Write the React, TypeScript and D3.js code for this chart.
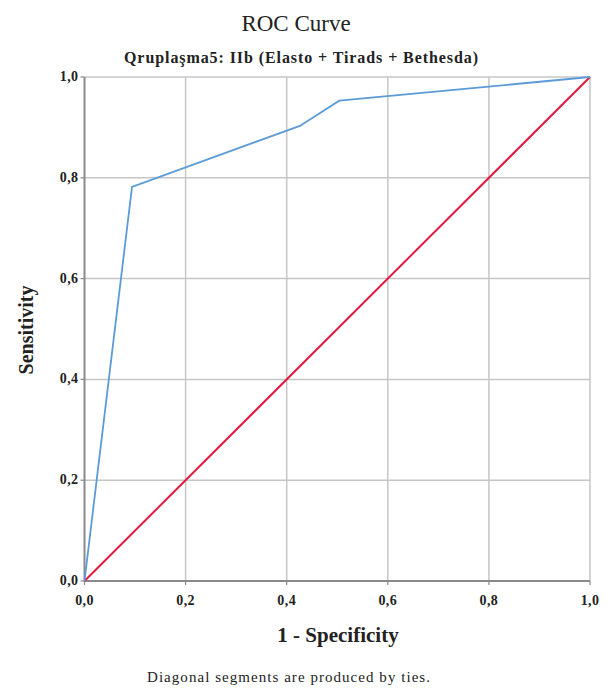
import React from "react";
import * as d3 from "d3";

// ROC points
const fpr = [0, 0.094, 0.426, 0.504, 1.0];
const tpr = [0, 0.782, 0.903, 0.953, 1.0];
const refX = [0, 1];
const refY = [0, 1];
const tickValues = [0, 0.2, 0.4, 0.6, 0.8, 1.0];
const tickLabels = ["0,0", "0,2", "0,4", "0,6", "0,8", "1,0"];

const W = 611;
const H = 688;
const left = 84.5;
const right = 590;
const top = 77;
const bottom = 581;
const serif = "'Liberation Serif', 'Times New Roman', serif";

export default function App() {
  const x = d3.scaleLinear().domain([0, 1]).range([left, right]);
  const y = d3.scaleLinear().domain([0, 1]).range([bottom, top]);

  const path = d3
    .line<[number, number]>()
    .x((d) => x(d[0]))
    .y((d) => y(d[1]));
  const rocPath = path(fpr.map((f, i) => [f, tpr[i]]));
  const refPath = path(refX.map((f, i) => [f, refY[i]]));

  return (
    <svg
      width={W}
      height={H}
      style={{ position: "absolute", left: 0, top: 0, background: "#fff" }}
      fontFamily={serif}
    >
      {/* grid */}
      <g stroke="#c6c6c6" strokeWidth={1.5}>
        {tickValues.slice(1).map((t) => (
          <line key={"gx" + t} x1={x(t)} x2={x(t)} y1={y(0)} y2={y(1)} />
        ))}
        {tickValues.slice(1).map((t) => (
          <line key={"gy" + t} x1={x(0)} x2={x(1)} y1={y(t)} y2={y(t)} />
        ))}
      </g>

      {/* axes */}
      <g stroke="#8a8a8a" strokeWidth={2}>
        <line x1={x(0)} x2={x(0)} y1={y(0)} y2={y(1)} />
        <line x1={x(0)} x2={x(1)} y1={y(0)} y2={y(0)} />
        {tickValues.map((t) => (
          <line key={"ty" + t} x1={x(0) - 4} x2={x(0)} y1={y(t)} y2={y(t)} strokeWidth={1.2} />
        ))}
        {tickValues.map((t) => (
          <line key={"tx" + t} x1={x(t)} x2={x(t)} y1={y(0)} y2={y(0) + 4} strokeWidth={1.2} />
        ))}
      </g>

      {/* tick labels */}
      <g fontSize={14} fontWeight="bold" fill="#222">
        {tickValues.map((t, i) => (
          <text key={"lx" + t} x={x(t)} y={605} textAnchor="middle" letterSpacing={0.4}>
            {tickLabels[i]}
          </text>
        ))}
        {tickValues.map((t, i) => (
          <text key={"ly" + t} x={x(0) - 6} y={y(t) + 4} textAnchor="end" letterSpacing={0.4}>
            {tickLabels[i]}
          </text>
        ))}
      </g>

      {/* lines */}
      <path d={refPath ?? ""} fill="none" stroke="#e3193f" strokeWidth={2} />
      <path d={rocPath ?? ""} fill="none" stroke="#5b9bd8" strokeWidth={1.8} />

      {/* titles */}
      <text x={296} y={31} textAnchor="middle" fontSize={23} fill="#222">
        ROC Curve
      </text>
      <text
        x={301}
        y={63}
        textAnchor="middle"
        fontSize={16}
        fontWeight="bold"
        fill="#222"
        textLength={354}
        lengthAdjust="spacing"
      >
        Qruplaşma5: IIb (Elasto + Tirads + Bethesda)
      </text>
      <text
        x={338}
        y={642}
        textAnchor="middle"
        fontSize={21}
        fontWeight="bold"
        fill="#222"
      >
        1 - Specificity
      </text>
      <text
        transform="translate(33,330) rotate(-90)"
        textAnchor="middle"
        fontSize={20}
        fontWeight="bold"
        fill="#222"
      >
        Sensitivity
      </text>
      <text
        x={147}
        y={682}
        fontSize={15}
        fill="#222"
        textLength={283}
        lengthAdjust="spacing"
      >
        Diagonal segments are produced by ties.
      </text>
    </svg>
  );
}
